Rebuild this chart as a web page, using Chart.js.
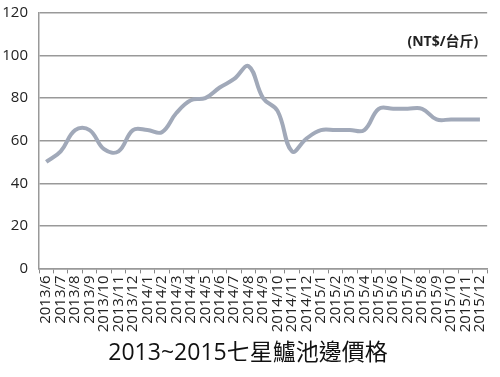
<!DOCTYPE html>
<html><head><meta charset="utf-8">
<script src="https://cdn.jsdelivr.net/npm/chart.js@4"></script>
<style>html,body{margin:0;padding:0;background:#fff}#wrap{width:500px;height:377px;position:relative}</style>
</head><body><div id="wrap"><canvas id="c"></canvas></div>
<script>
const categories = ["2013/6","2013/7","2013/8","2013/9","2013/10","2013/11","2013/12","2014/1","2014/2","2014/3","2014/4","2014/5","2014/6","2014/7","2014/8","2014/9","2014/10","2014/11","2014/12","2015/1","2015/2","2015/3","2015/4","2015/5","2015/6","2015/7","2015/8","2015/9","2015/10","2015/11","2015/12"];
const prices = [50,55,65,65,56,55,65,65,64,73,79,80,85,89,95,80,74,55,61,65,65,65,65,75,75,75,75,70,70,70,70];
const yTicks = [0,20,40,60,80,100,120];
const unitLabel = "(NT$/台斤)";
const titleText = "2013~2015七星鱸池邊價格";

const unitPlugin = {
  id: 'unit',
  afterDraw(chart) {
    const ctx = chart.ctx, a = chart.chartArea;
    ctx.save();
    ctx.font = "bold 14px 'Open Sans','Noto Sans CJK TC'";
    ctx.fillStyle = '#222';
    ctx.textAlign = 'right';
    ctx.textBaseline = 'middle';
    ctx.fillText(unitLabel, a.right - 9, a.top + 29);
    ctx.restore();
  }
};

new Chart(document.getElementById('c'), {
  type: 'line',
  data: { labels: categories, datasets: [{ data: prices, borderColor: '#a1a9b9', borderWidth: 4, pointRadius: 0, tension: 0.4, fill: false }] },
  options: {
    responsive: true, maintainAspectRatio: false, animation: false,
    layout: { padding: { top: 13, right: 4, left: 0, bottom: 0 } },
    plugins: {
      legend: { display: false }, tooltip: { enabled: false },
      title: { display: true, text: titleText, position: 'bottom', color: '#111',
        font: { family: "'Open Sans','Noto Sans CJK TC'", size: 23, weight: 'normal' }, padding: { top: 7, bottom: 10 } }
    },
    scales: {
      x: {
        offset: true,
        afterFit(s) { s.height = 64; s.paddingTop = 0; },
        grid: { display: true, drawOnChartArea: false, drawTicks: true, tickLength: 5, color: '#888', offset: true },
        border: { display: true, color: '#999', width: 1.5 },
        ticks: { color: '#222', font: { family: "'Open Sans'", size: 15 }, maxRotation: 90, minRotation: 90, autoSkip: false, padding: 2 }
      },
      y: {
        min: 0, max: 120,
        afterFit(s) { s.width = 39; s.paddingTop = 0; s.paddingBottom = 0; },
        afterBuildTicks(s) { s.ticks = yTicks.map(v => ({ value: v })); },
        grid: { color: '#999', lineWidth: 1.5, drawTicks: false },
        border: { display: true, color: '#999', width: 1.5 },
        ticks: { color: '#222', font: { family: "'Open Sans'", size: 15 }, padding: 11 }
      }
    }
  },
  plugins: [unitPlugin]
});
</script></body></html>
